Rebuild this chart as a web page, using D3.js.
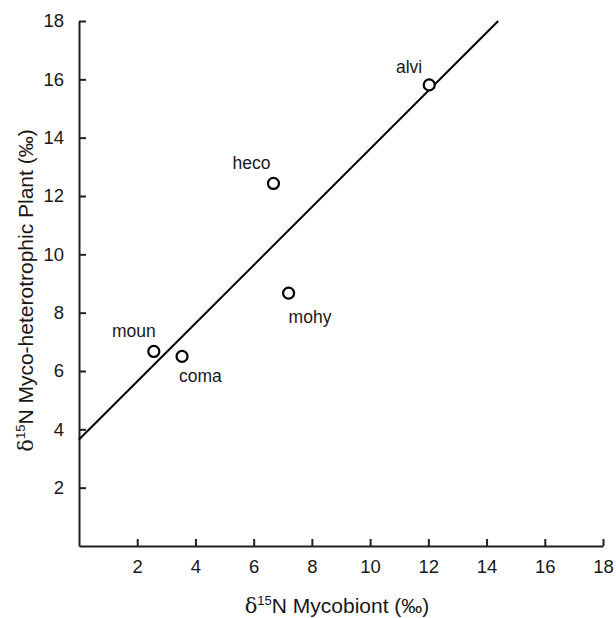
<!doctype html>
<html>
<head>
    <meta charset="UTF-8">
    <title>d15N</title>
    <script src="https://d3js.org/d3.v7.min.js"></script>
    <style>
        body { margin: 0; background: #fff; }
        text { font-family: "Liberation Sans", Arial, sans-serif; fill: #1a1718; }
    </style>
</head>
<body>
    <script>
        // species codes and their d15N values
        var names = ["alvi", "heco", "mohy", "moun", "coma"];
        var mycobiont = [12.03, 6.68, 7.2, 2.57, 3.54];
        var plant = [15.81, 12.43, 8.67, 6.67, 6.5];
        // label offsets (px) from each point
        var labelDx = [-7, -3, 0, 2, -3];
        var labelDy = [-12, -14, 30, -14, 26];
        var labelAnchor = ["end", "end", "start", "end", "start"];

        // regression line ends
        var lineX = [0, 14.4];
        var lineY = [3.65, 18];

        var xTicks = [2, 4, 6, 8, 10, 12, 14, 16, 18];
        var yTicks = [2, 4, 6, 8, 10, 12, 14, 16, 18];

        var w = 616, h = 618;
        var mLeft = 79, mRight = 603, mTop = 21, mBottom = 546;

        var svg = d3.select("body").append("svg")
            .attr("width", w)
            .attr("height", h);

        var x = d3.scaleLinear().domain([0, 18]).range([mLeft, mRight]);
        var y = d3.scaleLinear().domain([0, 18]).range([mBottom, mTop]);

        // axes, ticks pointing inward
        var xAxis = d3.axisBottom(x).tickValues(xTicks).tickSize(-7).tickPadding(14).tickSizeOuter(0);
        var yAxis = d3.axisLeft(y).tickValues(yTicks).tickSize(-7).tickPadding(15).tickSizeOuter(0);

        var gx = svg.append("g").attr("transform", "translate(0," + mBottom + ")").call(xAxis);
        var gy = svg.append("g").attr("transform", "translate(" + mLeft + ",0)").call(yAxis);

        [gx, gy].forEach(function(g){
            g.attr("font-size", 18.5).attr("font-family", "Liberation Sans, Arial, sans-serif");
            g.select(".domain").attr("stroke", "#231f20").attr("stroke-width", 2);
            g.selectAll(".tick line").attr("stroke", "#231f20").attr("stroke-width", 2);
            g.selectAll(".tick text").attr("fill", "#1a1718");
        });
        gx.selectAll(".tick text").attr("dy", "0.71em");

        // regression line
        svg.append("line")
            .attr("x1", x(lineX[0])).attr("y1", y(lineY[0]))
            .attr("x2", x(lineX[1])).attr("y2", y(lineY[1]))
            .attr("stroke", "#000")
            .attr("stroke-width", 2);

        // points
        svg.selectAll("circle.pt").data(names).enter().append("circle")
            .attr("class", "pt")
            .attr("cx", function(d, i){ return x(mycobiont[i]); })
            .attr("cy", function(d, i){ return y(plant[i]); })
            .attr("r", 5.5)
            .attr("fill", "#fff")
            .attr("stroke", "#000")
            .attr("stroke-width", 2.2);

        svg.selectAll("text.lbl").data(names).enter().append("text")
            .attr("class", "lbl")
            .attr("x", function(d, i){ return x(mycobiont[i]) + labelDx[i]; })
            .attr("y", function(d, i){ return y(plant[i]) + labelDy[i]; })
            .attr("text-anchor", function(d, i){ return labelAnchor[i]; })
            .attr("font-size", 17.5)
            .text(function(d){ return d; });

        // axis titles
        function title(g){
            g.append("tspan").attr("font-family", "DejaVu Serif, serif").text("\u03b4");
            g.append("tspan").attr("font-size", 13).attr("dy", -8).text("15");
            g.append("tspan").attr("dy", 8).text("N ");
        }

        var tx = svg.append("text")
            .attr("x", (mLeft + mRight) / 2 - 4)
            .attr("y", 613)
            .attr("text-anchor", "middle")
            .attr("font-size", 21);
        title(tx);
        tx.append("tspan").text("Mycobiont (\u2030)");

        var ty = svg.append("text")
            .attr("transform", "translate(33," + ((mTop + mBottom) / 2 + 7) + ") rotate(-90)")
            .attr("text-anchor", "middle")
            .attr("font-size", 21);
        title(ty);
        ty.append("tspan").text("Myco-heterotrophic Plant (\u2030)");
    </script>
</body>
</html>
